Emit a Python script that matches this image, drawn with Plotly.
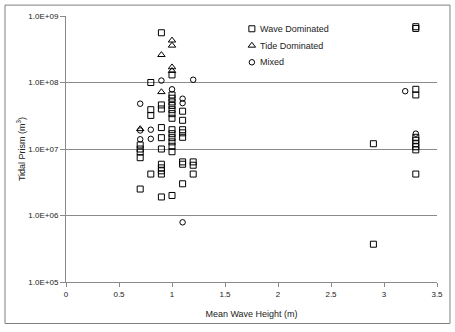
import plotly.graph_objects as go

# Tidal prism vs mean wave height, grouped by inlet type
wave_x = [0.7, 0.7, 0.7, 0.7, 0.7,
          0.8, 0.8, 0.8, 0.8,
          0.9, 0.9, 0.9, 0.9, 0.9, 0.9, 0.9, 0.9, 0.9, 0.9, 0.9,
          1.0, 1.0, 1.0, 1.0, 1.0, 1.0, 1.0, 1.0, 1.0, 1.0, 1.0, 1.0, 1.0, 1.0, 1.0,
          1.1, 1.1, 1.1, 1.1, 1.1, 1.1, 1.1, 1.1,
          1.2, 1.2, 1.2,
          2.9, 2.9,
          3.3, 3.3, 3.3, 3.3, 3.3, 3.3, 3.3, 3.3, 3.3, 3.3]
wave_y = [1.15e7, 1.0e7, 9.0e6, 7.4e6, 2.5e6,
          1.0e8, 3.9e7, 3.2e7, 4.2e6,
          5.6e8, 4.6e7, 4.0e7, 2.1e7, 1.48e7, 1.0e7, 5.9e6, 5.2e6, 4.7e6, 4.2e6, 1.9e6,
          1.3e8, 6.5e7, 5.8e7, 5.1e7, 4.5e7, 3.9e7, 3.4e7, 2.9e7, 1.95e7, 1.7e7,
          1.48e7, 1.28e7, 1.1e7, 9.1e6, 2.0e6,
          3.7e7, 2.7e7, 1.95e7, 1.75e7, 1.5e7, 6.4e6, 5.9e6, 3.0e6,
          6.4e6, 5.7e6, 4.2e6,
          1.2e7, 3.7e5,
          6.9e8, 6.5e8, 7.9e7, 6.5e7, 1.5e7, 1.35e7, 1.2e7, 1.08e7, 9.7e6, 4.2e6]

tide_x = [0.7, 0.9, 0.9, 1.0, 1.0, 1.0, 1.0]
tide_y = [2.0e7, 2.6e8, 7.2e7, 4.3e8, 3.6e8, 1.7e8, 1.5e8]

mixed_x = [0.7, 0.7, 0.7, 0.8, 0.8, 0.9, 1.0, 1.1, 1.1, 1.1, 1.2, 3.2, 3.3]
mixed_y = [4.8e7, 1.9e7, 1.4e7, 1.95e7, 1.42e7, 1.07e8, 7.9e7, 5.7e7, 4.9e7, 7.9e5,
           1.1e8, 7.4e7, 1.7e7]

series_names = ["Wave Dominated", "Tide Dominated", "Mixed"]
symbols = ["square-open", "triangle-up-open", "circle-open"]
sizes = [6, 6.5, 5.5]

x_ticks = [0, 0.5, 1, 1.5, 2, 2.5, 3, 3.5]
x_tick_text = ["0", "0.5", "1", "1.5", "2", "2.5", "3", "3.5"]
y_ticks = [1e5, 1e6, 1e7, 1e8, 1e9]
y_tick_text = ["1.0E+05", "1.0E+06", "1.0E+07", "1.0E+08", "1.0E+09"]

FONT = "Liberation Sans"
GRID = "#8a8a8a"

fig = go.Figure()
for xs, ys, sym, sz, name in zip([wave_x, tide_x, mixed_x], [wave_y, tide_y, mixed_y],
                                 symbols, sizes, series_names):
    fig.add_trace(go.Scatter(
        x=xs, y=ys, mode="markers", name=name, showlegend=False,
        marker=dict(symbol=sym, size=sz, color="black", line=dict(width=1, color="black")),
    ))

# legend keys drawn on an overlay axis so the symbol sits right beside its label
leg_x = 0.501
leg_rows = [0.952, 0.889, 0.826]
for sym, sz, name, ly in zip(symbols, sizes, series_names, leg_rows):
    fig.add_trace(go.Scatter(
        x=[leg_x], y=[ly], xaxis="x2", yaxis="y2", mode="markers", showlegend=False,
        hoverinfo="skip",
        marker=dict(symbol=sym, size=sz, color="black", line=dict(width=1, color="black")),
    ))
    fig.add_annotation(x=leg_x + 0.016, y=ly, xref="paper", yref="paper", text=name,
                       showarrow=False, xanchor="left", yanchor="middle",
                       font=dict(family=FONT, size=9, color="#222"))

fig.update_layout(
    width=455, height=332,
    margin=dict(l=66, r=18, t=13, b=50),
    paper_bgcolor="white", plot_bgcolor="white",
    font=dict(family=FONT, size=8, color="#222"),
    showlegend=False,
    xaxis=dict(
        range=[0, 3.5], tickvals=x_ticks, ticktext=x_tick_text,
        showgrid=False, zeroline=False,
        showline=True, linecolor=GRID, linewidth=1,
        ticks="outside", ticklen=4, tickcolor=GRID,
        tickfont=dict(family=FONT, size=8, color="#222"),
        title=dict(text="Mean Wave Height (m)", standoff=13,
                   font=dict(family=FONT, size=9, color="#222")),
    ),
    yaxis=dict(
        type="log", range=[5, 9], tickvals=y_ticks, ticktext=y_tick_text,
        showgrid=True, gridcolor=GRID, gridwidth=1, zeroline=False,
        showline=True, linecolor=GRID, linewidth=1,
        ticks="outside", ticklen=5, tickcolor=GRID,
        tickfont=dict(family=FONT, size=8, color="#222"),
        title=dict(text="Tidal Prism (m<sup>3</sup>)", standoff=1,
                   font=dict(family=FONT, size=9, color="#222")),
    ),
    xaxis2=dict(range=[0, 1], overlaying="x", visible=False),
    yaxis2=dict(range=[0, 1], overlaying="y", visible=False),
)

# chart frame
fig.add_shape(type="rect", xref="paper", yref="paper",
              x0=-0.1644, x1=1.035, y0=-0.156, y1=1.041,
              line=dict(color="#7f7f7f", width=1), fillcolor="rgba(0,0,0,0)", layer="below")

fig.write_html("out.html")
